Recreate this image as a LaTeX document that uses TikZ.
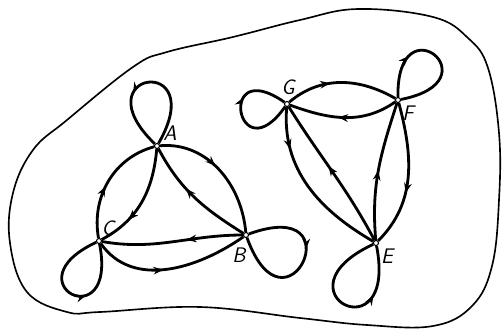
\documentclass[tikz,border=0pt]{standalone}
\usepackage{tikz}
\usetikzlibrary{arrows.meta,decorations.markings}
\definecolor{GraphInk}{HTML}{000000}

\begin{document}
\begin{tikzpicture}[x=0.03cm,y=0.03cm,
    vtx/.style={circle,draw=GraphInk,fill=white,line width=0.9pt,inner sep=0pt,minimum size=1.5mm},
    lbl/.style={text=GraphInk,font=\sffamily\itshape\fontsize{18}{20}\selectfont},
    arc/.style={draw=GraphInk,line width=2.4pt},
    midarrow/.style={postaction={decorate},decoration={markings,
      mark=at position #1 with {\arrow{Stealth[length=3mm,width=2.3mm]}}}},
    midarrow/.default=0.5]
  \useasboundingbox (0,0) rectangle (502,328);

  \draw[GraphInk,line width=1.4pt] plot[smooth cycle,tension=0.65] coordinates {
    (358,319) (433,311) (468,290) (488,260) (499,195) (499,128) (492,62)
    (472,22) (433,2) (367,3) (300,10) (200,21) (100,16) (67,16) (27,36)
    (10,85) (13,135) (33,178) (67,208) (133,261) (167,276) (233,291)
    (300,308)};

  \node[vtx] (A) at (157,182) {};
  \node[vtx] (B) at (246,93) {};
  \node[vtx] (C) at (99,87) {};
  \node[vtx] (G) at (287,224) {};
  \node[vtx] (F) at (398,228) {};
  \node[vtx] (E) at (376,85) {};

  \node[lbl] (lA) at (170,195) {A};
  \node[lbl] (lB) at (239,73) {B};
  \node[lbl] (lC) at (108,100) {C};
  \node[lbl] (lG) at (288,241) {G};
  \node[lbl] (lF) at (408,215) {F};
  \node[lbl] (lE) at (387,72) {E};

  \draw[arc,midarrow=0.45] (A) to[out=5,in=95] (B);
  \draw[arc,midarrow=0.6] (B) to[out=148,in=-62] (A);
  \draw[arc,midarrow=0.7] (A) to[out=-95,in=28] (C);
  \draw[arc,midarrow=0.45] (C) to[out=100,in=195] (A);
  \draw[arc,midarrow=0.4] (B) to[out=180,in=-10] (C);
  \draw[arc,midarrow=0.45] (C) to[out=-55,in=215] (B);
  \draw[arc,midarrow=0.62] (A) .. controls +(60:108) and +(136:108) .. (A);
  \draw[arc,midarrow=0.6] (C) .. controls +(205:100) and +(281:100) .. (C);
  \draw[arc,midarrow=0.42] (B) .. controls +(20:118) and +(-70:118) .. (B);

  \draw[arc,midarrow=0.4] (G) to[out=40,in=150] (F);
  \draw[arc,midarrow=0.55] (F) to[out=215,in=-20] (G);
  \draw[arc,midarrow=0.25] (G) to[out=-95,in=150] (E);
  \draw[arc,midarrow=0.55] (E) to[out=118,in=-58] (G);
  \draw[arc,midarrow=0.5] (E) to[out=95,in=-108] (F);
  \draw[arc,midarrow=0.62] (F) to[out=-75,in=45] (E);
  \draw[arc,midarrow=0.62] (G) .. controls +(235:87) and +(145:87) .. (G);
  \draw[arc,midarrow=0.3] (F) .. controls +(91:100) and +(11:100) .. (F);
  \draw[arc,midarrow=0.7] (E) .. controls +(205:116) and +(281:116) .. (E);
\end{tikzpicture}
\end{document}
